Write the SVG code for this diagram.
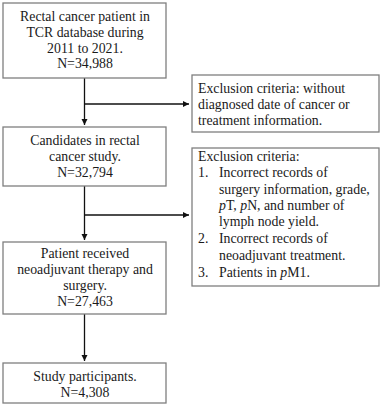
<svg xmlns="http://www.w3.org/2000/svg" width="382" height="408" viewBox="0 0 382 408">
<style>
.box{fill:#fff;stroke:#7f7f7f;stroke-width:1.3}
text{font-family:'Liberation Serif','Times New Roman',serif;font-size:13.8px;fill:#1a1a1a}
.c{text-anchor:middle}
.ln{stroke:#111;stroke-width:1.3;fill:none}
</style>
<defs>
<marker id="ah" markerWidth="8" markerHeight="8" refX="6" refY="4" orient="auto" markerUnits="userSpaceOnUse">
<path d="M0,1 L6,4 L0,7 Z" fill="#111"/>
</marker>
</defs>
<rect width="382" height="408" fill="#fff"/>
<g id="connectors">
<path class="ln" d="M84.5,78 V125" marker-end="url(#ah)"/>
<path class="ln" d="M84.5,104 H189" marker-end="url(#ah)"/>
<path class="ln" d="M84.5,186 V240" marker-end="url(#ah)"/>
<path class="ln" d="M84.5,215 H189" marker-end="url(#ah)"/>
<path class="ln" d="M84.5,314 V361" marker-end="url(#ah)"/>
</g>
<g id="n1">
<rect class="box" x="3" y="3" width="163" height="75"/>
<text class="c" x="85" y="20.5">Rectal cancer patient in</text>
<text class="c" x="85" y="36.5">TCR database during</text>
<text class="c" x="85" y="52.5">2011 to 2021.</text>
<text class="c" x="85" y="67.5">N=34,988</text>
</g>
<g id="n2">
<rect class="box" x="192" y="75" width="187" height="57"/>
<text x="198" y="92.5">Exclusion criteria: without</text>
<text x="198" y="108.5">diagnosed date of cancer or</text>
<text x="198" y="125">treatment information.</text>
</g>
<g id="n3">
<rect class="box" x="3" y="127" width="163" height="59"/>
<text class="c" x="85" y="145">Candidates in rectal</text>
<text class="c" x="85" y="161">cancer study.</text>
<text class="c" x="85" y="176.5">N=32,794</text>
</g>
<g id="n4">
<rect class="box" x="192" y="148" width="187" height="138"/>
<text x="198" y="161">Exclusion criteria:</text>
<text x="198" y="177">1.</text>
<text x="219" y="177">Incorrect records of</text>
<text x="219" y="193.5">surgery information, grade,</text>
<text x="219" y="210"><tspan font-style="italic">p</tspan>T, <tspan font-style="italic">p</tspan>N, and number of</text>
<text x="219" y="226">lymph node yield.</text>
<text x="198" y="243">2.</text>
<text x="219" y="243">Incorrect records of</text>
<text x="219" y="260">neoadjuvant treatment.</text>
<text x="198" y="277">3.</text>
<text x="219" y="277">Patients in <tspan font-style="italic">p</tspan>M1.</text>
</g>
<g id="n5">
<rect class="box" x="3" y="242" width="163" height="72"/>
<text class="c" x="85" y="257.5">Patient received</text>
<text class="c" x="85" y="273.5">neoadjuvant therapy and</text>
<text class="c" x="85" y="290">surgery.</text>
<text class="c" x="85" y="306">N=27,463</text>
</g>
<g id="n6">
<rect class="box" x="3" y="363" width="163" height="40"/>
<text class="c" x="85" y="381">Study participants.</text>
<text class="c" x="85" y="397">N=4,308</text>
</g>
</svg>
